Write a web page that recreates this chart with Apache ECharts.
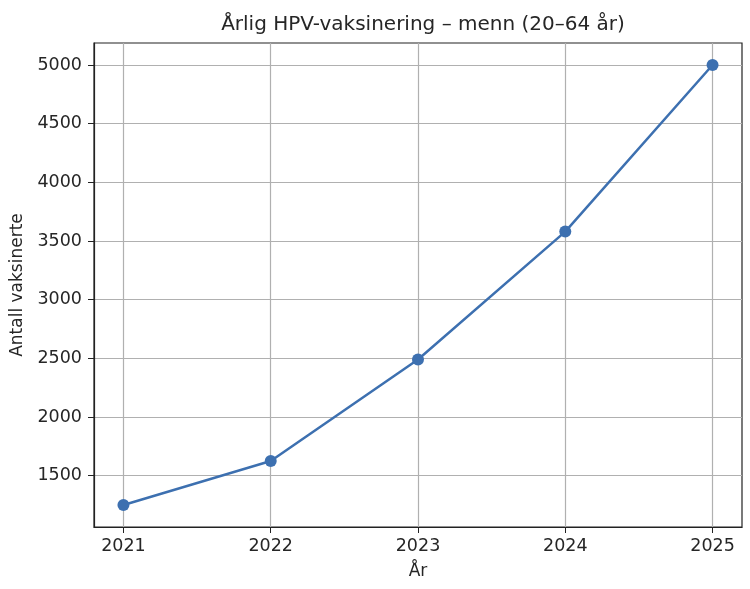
<!DOCTYPE html>
<html>
<head>
<meta charset="utf-8">
<script src="https://cdn.jsdelivr.net/npm/echarts@6/dist/echarts.min.js"></script>
<style>
  html, body { margin: 0; padding: 0; background: #fff; }
  #chart { width: 750px; height: 589px; }
</style>
</head>
<body>
<div id="chart"></div>
<script>
// data
var years = [2021, 2022, 2023, 2024, 2025];
var vaccinated = [1250, 1625, 2490, 3580, 5000];
var yTicks = [1500, 2000, 2500, 3000, 3500, 4000, 4500, 5000];

var lineColor = '#3d70b0';
var textColor = '#262626';
var font = 'DejaVu Sans';

// matplotlib-ish 5% margins
var xMin = years[0] - 0.05 * (years[years.length - 1] - years[0]);
var xMax = years[years.length - 1] + 0.05 * (years[years.length - 1] - years[0]);
var vMin = Math.min.apply(null, vaccinated), vMax = Math.max.apply(null, vaccinated);
var yMin = vMin - 0.05 * (vMax - vMin);
var yMax = vMax + 0.05 * (vMax - vMin);

var points = years.map(function (y, i) { return [y, vaccinated[i]]; });

var chart = echarts.init(document.getElementById('chart'), null, { renderer: 'canvas' });
chart.setOption({
    animation: false,
    backgroundColor: '#fff',
    title: {
        text: 'Årlig HPV-vaksinering – menn (20–64 år)',
        left: 418, top: 10, textAlign: 'center',
        textStyle: { fontFamily: font, fontSize: 20, fontWeight: 'normal', color: textColor }
    },
    grid: { left: 94, right: 8, top: 43, bottom: 62, outerBoundsMode: 'none', containLabel: false,
        show: true, borderColor: '#222', borderWidth: 1.2 },
    xAxis: {
        type: 'value', min: xMin, max: xMax,
        name: 'År', nameLocation: 'middle', nameGap: 36,
        nameTextStyle: { fontFamily: font, fontSize: 17, color: textColor },
        axisLine: { show: true, lineStyle: { color: '#222', width: 1.2 } },
        axisTick: { show: true, length: 6, customValues: years, lineStyle: { color: '#222' } },
        axisLabel: { customValues: years, fontFamily: font, fontSize: 17.5, color: textColor, margin: 10,
            formatter: function (v) { return String(v); } },
        splitLine: { show: true, lineStyle: { color: '#b0b0b0', width: 1.2 } }
    },
    yAxis: {
        type: 'value', min: yMin, max: yMax,
        name: 'Antall vaksinerte', nameLocation: 'middle', nameGap: 68,
        nameTextStyle: { fontFamily: font, fontSize: 17, color: textColor },
        axisLine: { show: true, lineStyle: { color: '#222', width: 1.2 } },
        axisTick: { show: true, length: 6, customValues: yTicks, lineStyle: { color: '#222' } },
        axisLabel: { customValues: yTicks, fontFamily: font, fontSize: 17.5, color: textColor, margin: 12,
            formatter: function (v) { return String(v); } },
        splitLine: { show: true, lineStyle: { color: '#b0b0b0', width: 1.2 } }
    },
    series: [{
        type: 'line',
        data: points,
        symbol: 'circle', symbolSize: 12,
        lineStyle: { color: lineColor, width: 2.5 },
        itemStyle: { color: lineColor }
    }]
});
</script>
</body>
</html>
